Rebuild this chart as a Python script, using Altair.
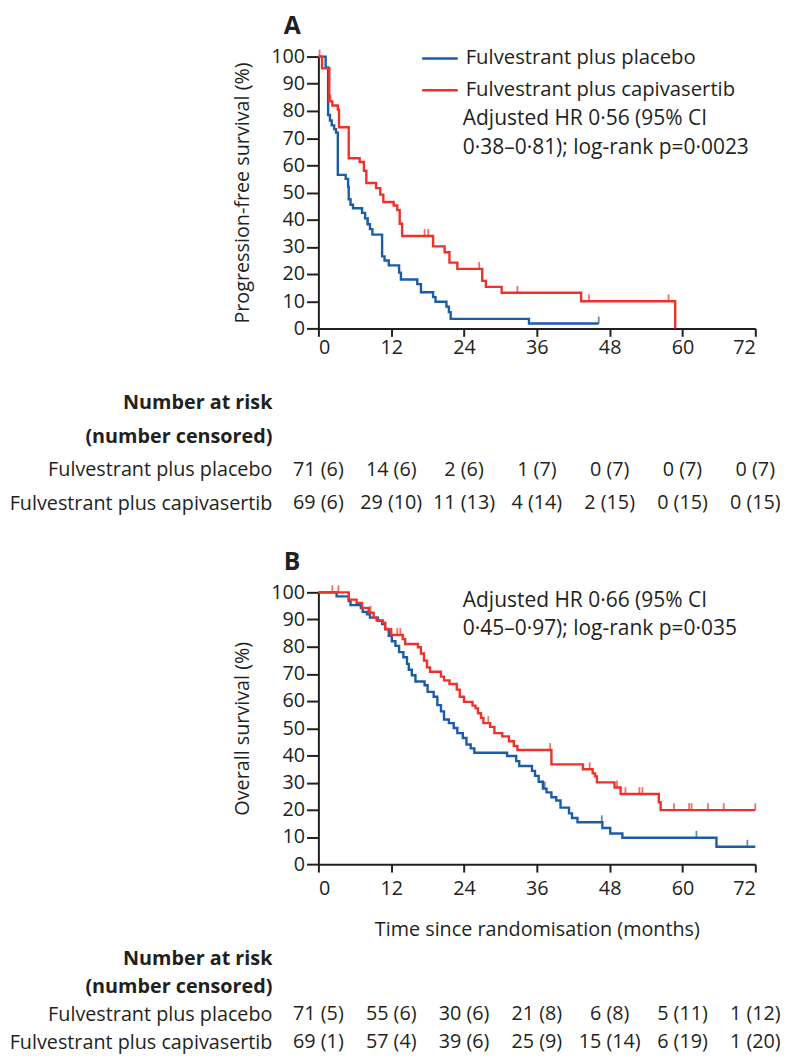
import altair as alt
import pandas as pd

FONT = "Open Sans"
BLUE = "#1b5ca8"
RED = "#ee3129"
INK = "#231f20"
FS = 20
FS_LEG = 20.5
FS_NOTE = 21.2

arms = ["Fulvestrant plus placebo", "Fulvestrant plus capivasertib"]

# ---------------- Panel A: progression-free survival ----------------
pfs_plac_t = [0, 1.2, 1.6, 1.9, 2.2, 2.6, 2.9, 3.2, 4.5, 4.9, 5.0, 5.3, 5.7, 7.2, 7.7,
              8.1, 8.5, 8.9, 10.5, 10.9, 11.6, 13.3, 13.6, 16.3, 16.9, 18.9, 19.3,
              21.1, 21.5, 21.8, 34.7, 46.2]
pfs_plac_s = [100, 96.0, 78.5, 76.5, 74.7, 73.3, 72.0, 56.5, 55.0, 52.0, 47.5, 45.5, 44.2,
              42.5, 40.5, 38.3, 36.5, 34.5, 26.5, 25.0, 23.2, 20.5, 18.0, 16.3, 13.3,
              11.5, 9.8, 8.0, 6.0, 3.5, 1.8, 1.8]
pfs_plac_cens = [8.2, 46.2]

pfs_capi_t = [0, 0.6, 1.8, 2.3, 3.2, 3.4, 5.0, 6.8, 7.5, 7.9, 9.5, 10.2, 10.7, 12.4, 13.0,
              13.4, 13.8, 18.9, 20.8, 21.6, 22.9, 27.0, 27.6, 30.2, 43.3, 58.8]
pfs_capi_s = [100, 95.7, 83.5, 82.0, 80.5, 74.0, 62.6, 61.2, 58.0, 53.5, 51.6, 49.2, 46.5,
              45.2, 43.5, 38.5, 34.0, 30.2, 28.0, 24.2, 21.9, 17.5, 15.3, 13.1, 10.0, 0]
pfs_capi_cens = [0.2, 2.0, 17.5, 18.1, 26.5, 32.8, 44.6, 57.7]

pfs_annot = ["Adjusted HR 0·56 (95% CI", "0·38–0·81); log-rank p=0·0023"]
pfs_annot_t = [23.8, 23.8]
pfs_annot_s = [77, 66.5]

# ---------------- Panel B: overall survival ----------------
os_plac_t = [0, 3.0, 5.0, 5.3, 7.0, 7.3, 8.0, 8.5, 9.8, 10.5, 11.0, 11.6, 12.1, 12.7, 13.3,
             14.0, 14.6, 14.9, 15.4, 16.0, 17.5, 18.0, 19.0, 19.6, 20.2, 20.7, 21.5, 22.3,
             22.9, 23.8, 24.4, 25.1, 25.7, 31.1, 32.6, 33.1, 35.2, 35.7, 36.3, 37.0, 37.6,
             38.4, 39.2, 39.9, 41.3, 41.8, 42.7, 46.8, 48.1, 50.1, 65.6, 72.0]
os_plac_s = [100, 98.5, 96.8, 95.3, 94.2, 92.8, 91.9, 90.7, 89.5, 88.3, 86.5, 84.0, 82.0,
             80.3, 78.0, 76.1, 73.7, 71.5, 69.5, 67.2, 65.8, 63.4, 61.6, 58.5, 56.2, 53.2,
             51.9, 50.1, 48.2, 46.4, 44.0, 42.6, 41.0, 39.8, 37.9, 36.1, 34.3, 32.5, 30.3,
             27.8, 26.4, 24.6, 23.4, 20.8, 18.7, 17.0, 15.4, 13.3, 11.3, 9.7, 6.4, 6.4]
os_plac_cens = [37.3, 46.7, 62.3, 70.7]

os_capi_t = [0, 5.0, 6.3, 7.2, 8.3, 9.1, 9.6, 10.6, 11.0, 12.0, 13.9, 14.3, 16.4, 16.9,
             17.4, 17.9, 18.4, 20.2, 20.7, 21.6, 22.8, 23.3, 24.0, 25.4, 25.9, 26.3, 26.8,
             27.2, 28.3, 29.0, 30.3, 31.4, 32.2, 32.8, 38.4, 43.6, 45.2, 45.6, 45.9, 48.8,
             49.8, 56.1, 56.4, 72.0]
os_capi_s = [100, 97.3, 96.1, 94.3, 92.5, 90.7, 89.7, 88.8, 86.4, 84.3, 82.8, 81.0, 79.8,
             77.5, 74.9, 72.4, 70.8, 69.0, 67.6, 66.3, 64.2, 61.6, 59.7, 58.3, 57.3, 55.5,
             53.8, 51.9, 50.5, 48.2, 47.0, 45.2, 43.5, 42.0, 36.7, 34.9, 33.4, 32.3, 30.1,
             28.2, 25.8, 22.8, 19.9, 19.9]
os_capi_cens = [2.3, 3.3, 8.6, 13.0, 13.5, 28.0, 38.2, 44.7, 49.2, 50.6, 52.9, 53.4, 58.6,
                61.1, 61.5, 64.2, 66.8, 72.0]

os_annot = ["Adjusted HR 0·66 (95% CI", "0·45–0·97); log-rank p=0·035"]
os_annot_t = [23.8, 23.8]
os_annot_s = [96.7, 86.5]

# ---------------- Number at risk ----------------
risk_times = [0, 12, 24, 36, 48, 60, 72]
risk_rows = ["Number at risk", "(number censored)", arms[0], arms[1]]
pfs_risk_plac = ["71 (6)", "14 (6)", "2 (6)", "1 (7)", "0 (7)", "0 (7)", "0 (7)"]
pfs_risk_capi = ["69 (6)", "29 (10)", "11 (13)", "4 (14)", "2 (15)", "0 (15)", "0 (15)"]
os_risk_plac = ["71 (5)", "55 (6)", "30 (6)", "21 (8)", "6 (8)", "5 (11)", "1 (12)"]
os_risk_capi = ["69 (1)", "57 (4)", "39 (6)", "25 (9)", "15 (14)", "6 (19)", "1 (20)"]

x_ticks = [0, 12, 24, 36, 48, 60, 72]
y_ticks = list(range(0, 101, 10))

W, H = 442, 275


def step_value(ts, ss, t):
    v = ss[0]
    for ti, si in zip(ts, ss):
        if ti <= t:
            v = si
    return v


def curves(pt, ps, ct, cs):
    rows = []
    for arm, ts, ss in ((arms[0], pt, ps), (arms[1], ct, cs)):
        for i, (t, s) in enumerate(zip(ts, ss)):
            rows.append({"arm": arm, "t": t, "s": s, "i": i})
    return pd.DataFrame(rows)


def censors(pt, ps, pc, ct, cs, cc):
    rows = []
    for arm, ts, ss, cens in ((arms[0], pt, ps, pc), (arms[1], ct, cs, cc)):
        for c in cens:
            rows.append({"arm": arm, "t": c, "s": step_value(ts, ss, c)})
    return pd.DataFrame(rows)


color_scale = alt.Scale(domain=arms, range=[BLUE, RED])


def km_panel(letter, ytitle, xtitle, curve_df, cens_df, annot, annot_t, annot_s,
             legend, xlabpad, xtitlepad):
    x_axis = alt.Axis(values=x_ticks, tickSize=8, tickWidth=2, domainWidth=2,
                      domainColor=INK, tickColor=INK, labelColor=INK, labelFont=FONT,
                      labelFontSize=FS, labelPadding=xlabpad, grid=False, titleFont=FONT,
                      titleFontSize=FS, titleFontWeight="normal", titleColor=INK,
                      titlePadding=xtitlepad, labelOverlap=False)
    y_axis = alt.Axis(values=y_ticks, tickSize=12, tickWidth=2, domainWidth=2,
                      domainColor=INK, tickColor=INK, labelColor=INK, labelFont=FONT,
                      labelFontSize=FS, labelPadding=2, grid=False, titleFont=FONT,
                      titleFontSize=FS, titleFontWeight="normal", titleColor=INK,
                      titlePadding=18, labelOverlap=False, tickCount=11)
    xenc = alt.X("t:Q", scale=alt.Scale(domain=[0, 72], nice=False, zero=True),
                 axis=x_axis, title=xtitle if xtitle else None)
    yenc = alt.Y("s:Q", scale=alt.Scale(domain=[0, 100], nice=False), axis=y_axis,
                 title=ytitle)
    if legend:
        leg = alt.Legend(orient="none", legendX=107, legendY=-14, title=None,
                         symbolType="M-1.25,0H1.25", symbolSize=829,
                         symbolStrokeWidth=2.5, labelFont=FONT, labelFontSize=FS_LEG,
                         labelColor=INK, labelOffset=10, rowPadding=5, padding=0,
                         labelLimit=0)
        cenc = alt.Color("arm:N", scale=color_scale, legend=leg)
    else:
        cenc = alt.Color("arm:N", scale=color_scale, legend=None)

    lines = alt.Chart(curve_df).mark_line(interpolate="step-after", strokeWidth=2.4).encode(
        x=xenc, y=yenc, color=cenc, order="i:Q", detail="arm:N")
    ticks = alt.Chart(cens_df).mark_tick(orient="vertical", size=7, thickness=1.8,
                                         yOffset=-3.5).encode(
        x=xenc, y=yenc, color=alt.Color("arm:N", scale=color_scale, legend=None))
    adf = pd.DataFrame({"t": annot_t, "s": annot_s, "txt": annot})
    text = alt.Chart(adf).mark_text(align="left", baseline="middle", font=FONT,
                                    fontSize=FS_NOTE, color=INK).encode(
        x=xenc, y=yenc, text="txt:N")
    return alt.layer(lines, ticks, text).properties(
        width=W, height=H,
        title=alt.TitleParams(letter, anchor="start", frame="group", font=FONT,
                              fontSize=25, fontWeight="bold", color=INK, dx=-35,
                              offset=8))


def risk_table(plac, capi, height):
    rows = []
    for arm, vals in ((arms[0], plac), (arms[1], capi)):
        for t, v in zip(risk_times, vals):
            rows.append({"row": arm, "t": t, "txt": v})
    df = pd.DataFrame(rows)
    return alt.Chart(df).mark_text(font=FONT, fontSize=FS, color=INK, align="center",
                                   baseline="middle").encode(
        x=alt.X("t:Q", scale=alt.Scale(domain=[0, 72], nice=False), axis=None),
        y=alt.Y("row:N", scale=alt.Scale(domain=risk_rows, type="point", padding=0.5),
                axis=alt.Axis(title=None, domain=False, ticks=False, labelFont=FONT,
                              labelFontSize=FS, labelColor=INK, labelPadding=47,
                              labelLimit=0,
                              labelFontWeight={"expr": "datum.value == 'Number at risk' || datum.value == '(number censored)' ? 'bold' : 'normal'"})),
        text="txt:N",
    ).properties(width=W, height=height)


kmA = km_panel("A", "Progression-free survival (%)", None,
               curves(pfs_plac_t, pfs_plac_s, pfs_capi_t, pfs_capi_s),
               censors(pfs_plac_t, pfs_plac_s, pfs_plac_cens, pfs_capi_t, pfs_capi_s, pfs_capi_cens),
               pfs_annot, pfs_annot_t, pfs_annot_s, legend=True, xlabpad=1.5, xtitlepad=18)
kmB = km_panel("B", "Overall survival (%)", "Time since randomisation (months)",
               curves(os_plac_t, os_plac_s, os_capi_t, os_capi_s),
               censors(os_plac_t, os_plac_s, os_plac_cens, os_capi_t, os_capi_s, os_capi_cens),
               os_annot, os_annot_t, os_annot_s, legend=False, xlabpad=7, xtitlepad=21)

tabA = risk_table(pfs_risk_plac, pfs_risk_capi, 136)
tabB = risk_table(os_risk_plac, os_risk_capi, 112)

blockA = alt.vconcat(kmA, tabA, spacing=28)
blockB = alt.vconcat(kmB, tabB, spacing=6)

chart = alt.vconcat(blockA, blockB, spacing=30).configure(
    padding={"left": 0, "top": 0, "right": 0, "bottom": 0},
    font=FONT,
).configure_view(stroke=None)

chart.save("out.html", embed_options={"renderer": "svg", "actions": False})
